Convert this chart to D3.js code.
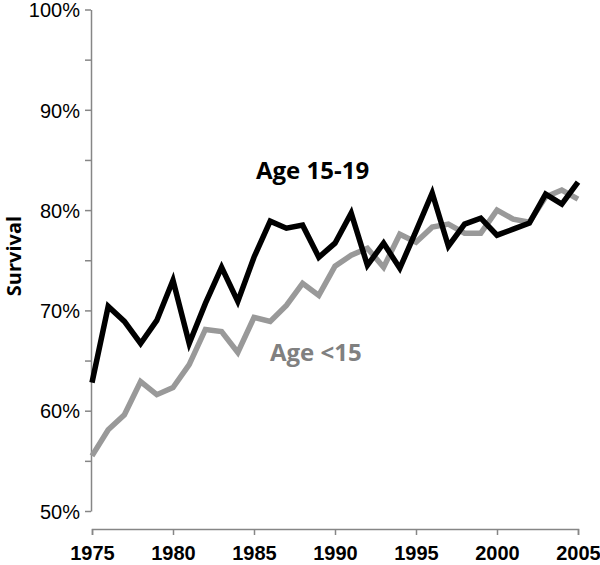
<!DOCTYPE html>
<html>
<head>
<meta charset="utf-8">
<script src="https://cdn.jsdelivr.net/npm/d3@7"></script>
<style>
  body { margin: 0; background: #fff; }
  svg { display: block; font-family: "Open Sans", sans-serif; }
</style>
</head>
<body>
<svg id="chart"></svg>
<script>
const years = d3.range(1975, 2006);
const age1519 = [62.8, 70.4, 68.9, 66.7, 69.0, 73.0, 66.7, 70.7, 74.3, 70.9,
  75.3, 78.9, 78.2, 78.5, 75.3, 76.7, 79.7, 74.5, 76.7, 74.2,
  77.9, 81.7, 76.4, 78.6, 79.2, 77.5, 78.1, 78.7, 81.6, 80.6, 82.8];
const ageUnder15 = [55.5, 58.1, 59.6, 62.9, 61.6, 62.3, 64.6, 68.1, 67.9, 65.8,
  69.3, 68.9, 70.5, 72.7, 71.5, 74.4, 75.5, 76.2, 74.3, 77.6,
  76.8, 78.3, 78.6, 77.7, 77.7, 80.0, 79.1, 78.8, 81.3, 82.0, 81.1];
const yTicks = [50, 55, 60, 65, 70, 75, 80, 85, 90, 95, 100];
const xTicks = [1975, 1980, 1985, 1990, 1995, 2000, 2005];

const width = 600, height = 565;
const axisColor = "#868686";

const svg = d3.select("#chart")
  .attr("width", width)
  .attr("height", height);

const x = d3.scaleLinear().domain([1975, 2005]).range([92, 578]);
const y = d3.scaleLinear().domain([50, 100]).range([511, 9.5]);

// y axis
const yAxis = svg.append("g")
  .attr("transform", "translate(91,0)")
  .call(d3.axisLeft(y)
    .tickValues(yTicks)
    .tickSize(6)
    .tickSizeOuter(0)
    .tickPadding(5)
    .tickFormat(d => d % 10 === 0 ? d + "%" : ""));
yAxis.selectAll("path, line").attr("stroke", axisColor).attr("stroke-width", 1.5);
yAxis.selectAll("text")
  .attr("fill", "#000")
  .attr("dy", "0.36em")
  .style("font-size", "20px");

// x axis, detached below the plot
const xAxis = svg.append("g")
  .attr("transform", "translate(0,529)")
  .call(d3.axisBottom(x)
    .tickValues(xTicks)
    .tickSize(6)
    .tickSizeOuter(6)
    .tickPadding(11)
    .tickFormat(d3.format("d")));
xAxis.selectAll("path, line").attr("stroke", axisColor).attr("stroke-width", 1.5);
xAxis.selectAll("text")
  .attr("fill", "#000")
  .style("font-size", "20px")
  .style("font-weight", "bold");

svg.append("text")
  .attr("transform", "translate(21,256) rotate(-90)")
  .attr("text-anchor", "middle")
  .style("font-size", "20px")
  .style("font-weight", "bold")
  .text("Survival");

const line = d3.line()
  .x((d, i) => x(years[i]))
  .y(d => y(d));

svg.append("path")
  .datum(ageUnder15)
  .attr("fill", "none")
  .attr("stroke", "#999999")
  .attr("stroke-width", 5.5)
  .attr("stroke-linejoin", "miter")
  .attr("d", line);

svg.append("path")
  .datum(age1519)
  .attr("fill", "none")
  .attr("stroke", "#000")
  .attr("stroke-width", 5.5)
  .attr("stroke-linejoin", "miter")
  .attr("d", line);

svg.append("text")
  .attr("x", 256)
  .attr("y", 179)
  .style("font-size", "24px")
  .style("font-weight", "bold")
  .attr("fill", "#000")
  .text("Age 15-19");

svg.append("text")
  .attr("x", 270)
  .attr("y", 361)
  .style("font-size", "24px")
  .style("font-weight", "bold")
  .attr("fill", "#808080")
  .text("Age <15");
</script>
</body>
</html>
